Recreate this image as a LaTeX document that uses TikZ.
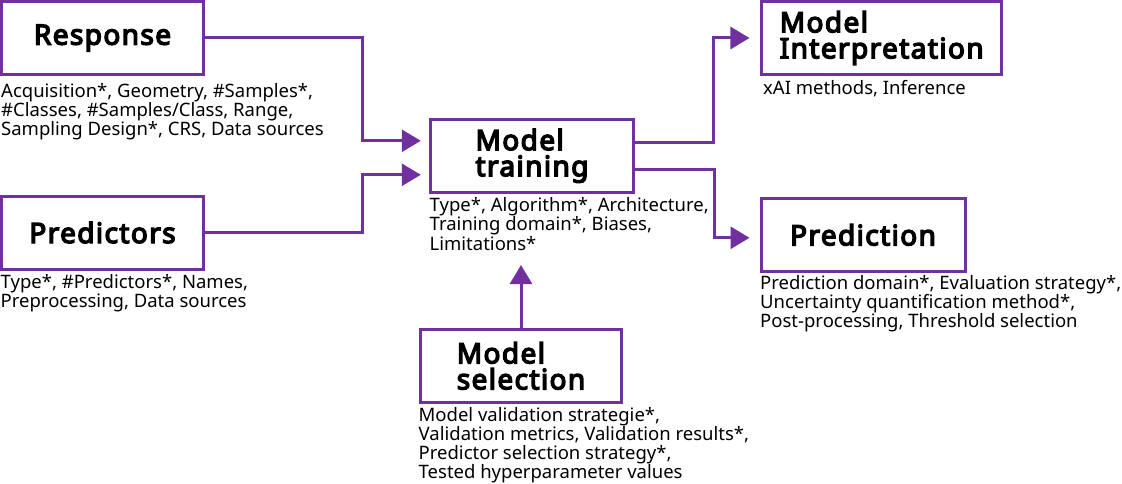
\documentclass[tikz,border=0pt]{standalone}
\usepackage{fontspec}
\setmainfont{Noto Sans}
\newfontfamily\ttlfont{Noto Sans}[FakeBold=5,LetterSpace=5]
\usetikzlibrary{arrows.meta,calc}
\definecolor{vio}{RGB}{112,48,160}
\begin{document}
\begin{tikzpicture}[x=1pt,y=-1pt,
  box/.style={draw=vio, line width=3pt, inner sep=0pt, align=left,
    font=\ttlfont\fontsize{28}{26}\selectfont},
  desc/.style={anchor=base west, inner sep=0pt,
    font=\fontsize{18.5}{19.2}\selectfont},
  conn/.style={draw=vio, line width=3pt, -{Triangle[length=19pt,width=22pt]}},
]
\useasboundingbox (0,0) rectangle (1122,484);

\node[box, minimum width=202pt, minimum height=73pt] (resp) at (102.5,38) {Response};
\node[box, minimum width=202pt, minimum height=73pt] (pred) at (102.5,232.5) {Predictors};
\node[box, minimum width=202.5pt, minimum height=72.5pt] (train) at (532,155.8) {Model\\training};
\node[box, minimum width=201.5pt, minimum height=72.5pt] (sel) at (521,365.8) {Model\\selection};
\node[box, minimum width=240.5pt, minimum height=73pt] (interp) at (881.7,38) {Model\\Interpretation};
\node[box, minimum width=204pt, minimum height=73.5pt] (predn) at (863,234.8) {Prediction};

\node[desc] (respd) at (1,97.5) {\vtop{\hbox{Acquisition*, Geometry, \#Samples*,}\hbox{\#Classes, \#Samples/Class, Range,}\hbox{Sampling Design*, CRS, Data sources}}};
\node[desc] (predd) at (0.5,288.3) {\vtop{\hbox{Type*, \#Predictors*, Names,}\hbox{Preprocessing, Data sources}}};
\node[desc] (traind) at (429.5,211.7) {\vtop{\hbox{Type*, Algorithm*, Architecture,}\hbox{Training domain*, Biases,}\hbox{Limitations*}}};
\node[desc] (seld) at (418.5,421) {\vtop{\hbox{Model validation strategie*,}\hbox{Validation metrics, Validation results*,}\hbox{Predictor selection strategy*,}\hbox{Tested hyperparameter values}}};
\node[desc] (interpd) at (763,94.3) {xAI methods, Inference};
\node[desc] (prednd) at (760,289.3) {\vtop{\hbox{Prediction domain*, Evaluation strategy*,}\hbox{Uncertainty quantification method*,}\hbox{Post-processing, Threshold selection}}};

\draw[conn, shorten >=8.5pt] (resp.east) -| ([xshift=-66.5pt,yshift=15pt]train.west) -- ([yshift=15pt]train.west);
\draw[conn, shorten >=8.5pt] (pred.east) -| ([xshift=-66.5pt,yshift=-19pt]train.west) -- ([yshift=-19pt]train.west);
\draw[conn, shorten >=10.5pt] ([yshift=13.3pt]train.east) -| ([xshift=-46pt]interp.west) -- (interp.west);
\draw[conn, shorten >=10pt] ([yshift=-13.7pt]train.east) -| ([xshift=-45.5pt,yshift=-3pt]predn.west) -- ([yshift=-3pt]predn.west);
\draw[conn] (sel.north) -- ++(0,-63);
\end{tikzpicture}
\end{document}
